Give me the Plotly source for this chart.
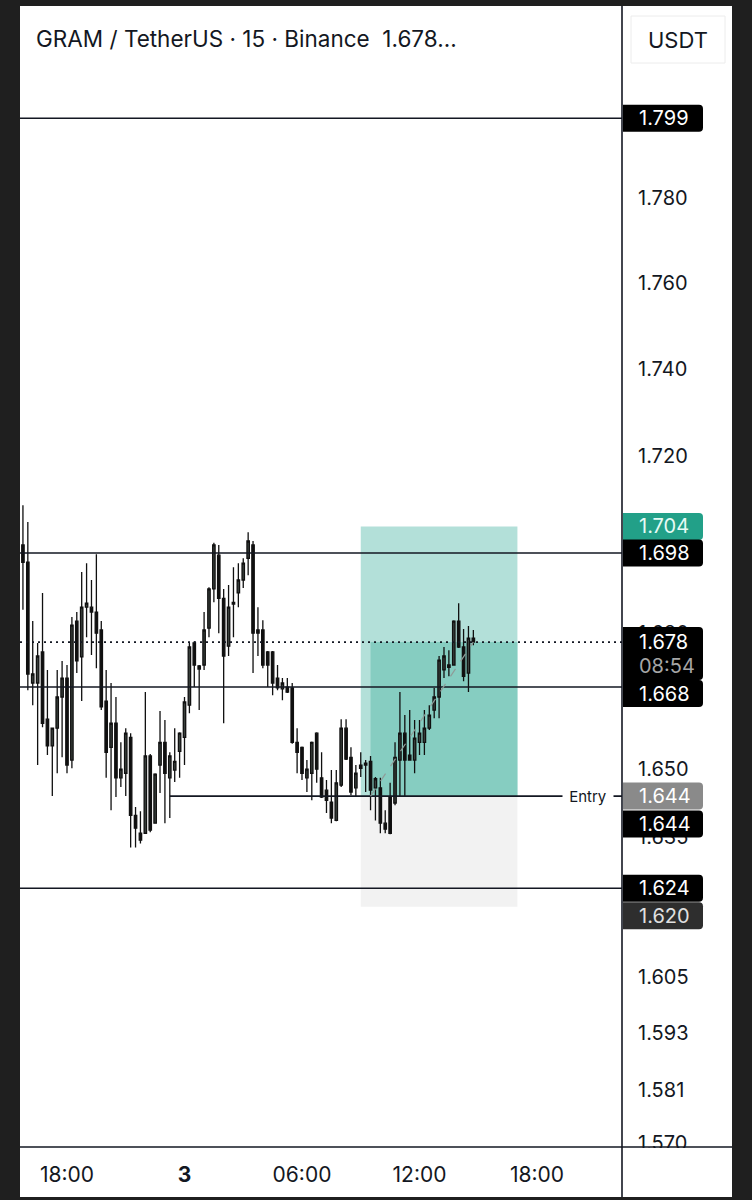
import math
import pandas as pd
import plotly.graph_objects as go

# ---------------- data ----------------
start_time = "2025-01-02 15:45"
bar_freq = "15min"

opens = [1.6998, 1.6959, 1.6689, 1.6689, 1.6758, 1.6609, 1.6550, 1.6589, 1.6658, 1.6700,
         1.6519, 1.6827, 1.6747, 1.6858, 1.6858, 1.6847, 1.6807, 1.6649, 1.6547, 1.6600,
         1.6480, 1.6490, 1.6569, 1.6398, 1.6359, 1.6359, 1.6528, 1.6381, 1.6508, 1.6558,
         1.6480, 1.6497, 1.6538, 1.6569, 1.6640, 1.6778, 1.6727, 1.6729, 1.6811, 1.6899,
         1.6975, 1.6878, 1.6771, 1.6865, 1.6890, 1.6919, 1.6968, 1.6998, 1.6807, 1.6807,
         1.6758, 1.6758, 1.6700, 1.6676, 1.6680, 1.6678, 1.6558, 1.6547, 1.6480, 1.6490,
         1.6578, 1.6480, 1.6453, 1.6427, 1.6387, 1.6464, 1.6589, 1.6525, 1.6458, 1.6508,
         1.6512, 1.6516, 1.6458, 1.6458, 1.6381, 1.6438, 1.6425, 1.6519, 1.6578, 1.6530,
         1.6519, 1.6558, 1.6558, 1.6589, 1.6629, 1.6658, 1.6718, 1.6729, 1.6729, 1.6827,
         1.6769, 1.6711, 1.6789]
highs = [1.7088, 1.7050, 1.6827, 1.6778, 1.6890, 1.6718, 1.6589, 1.6718, 1.6738, 1.6729,
         1.6836, 1.6847, 1.6937, 1.6957, 1.6919, 1.6977, 1.6827, 1.6718, 1.6689, 1.6658,
         1.6558, 1.6589, 1.6578, 1.6416, 1.6407, 1.6669, 1.6532, 1.6490, 1.6627, 1.6607,
         1.6536, 1.6589, 1.6580, 1.6658, 1.6778, 1.6782, 1.6729, 1.6847, 1.6903, 1.7003,
         1.6998, 1.6899, 1.6908, 1.6948, 1.6957, 1.6968, 1.7027, 1.7007, 1.6858, 1.6829,
         1.6760, 1.6760, 1.6729, 1.6700, 1.6700, 1.6689, 1.6589, 1.6549, 1.6519, 1.6560,
         1.6580, 1.6536, 1.6475, 1.6497, 1.6497, 1.6609, 1.6609, 1.6547, 1.6508, 1.6536,
         1.6519, 1.6528, 1.6482, 1.6480, 1.6409, 1.6469, 1.6558, 1.6669, 1.6618, 1.6629,
         1.6607, 1.6607, 1.6629, 1.6640, 1.6678, 1.6749, 1.6769, 1.6762, 1.6829, 1.6867,
         1.6809, 1.6816, 1.6807]
lows = [1.6852, 1.6673, 1.6640, 1.6508, 1.6591, 1.6530, 1.6440, 1.6490, 1.6525, 1.6490,
        1.6501, 1.6711, 1.6649, 1.6791, 1.6751, 1.6722, 1.6629, 1.6480, 1.6409, 1.6438,
        1.6460, 1.6440, 1.6328, 1.6328, 1.6337, 1.6359, 1.6361, 1.6381, 1.6447, 1.6381,
        1.6392, 1.6471, 1.6480, 1.6508, 1.6622, 1.6680, 1.6629, 1.6718, 1.6791, 1.6869,
        1.6800, 1.6600, 1.6749, 1.6791, 1.6858, 1.6901, 1.6930, 1.6711, 1.6749, 1.6722,
        1.6680, 1.6662, 1.6673, 1.6651, 1.6667, 1.6555, 1.6490, 1.6475, 1.6449, 1.6431,
        1.6469, 1.6436, 1.6403, 1.6381, 1.6385, 1.6460, 1.6519, 1.6442, 1.6438, 1.6482,
        1.6449, 1.6409, 1.6387, 1.6359, 1.6359, 1.6357, 1.6420, 1.6438, 1.6438, 1.6519,
        1.6490, 1.6530, 1.6530, 1.6585, 1.6611, 1.6611, 1.6700, 1.6704, 1.6729, 1.6767,
        1.6693, 1.6669, 1.6773]
closes = [1.6959, 1.6709, 1.6709, 1.6749, 1.6600, 1.6550, 1.6589, 1.6658, 1.6700, 1.6508,
          1.6818, 1.6738, 1.6858, 1.6867, 1.6847, 1.6800, 1.6636, 1.6536, 1.6600, 1.6480,
          1.6499, 1.6578, 1.6398, 1.6370, 1.6344, 1.6528, 1.6366, 1.6488, 1.6558, 1.6490,
          1.6528, 1.6516, 1.6578, 1.6647, 1.6769, 1.6729, 1.6720, 1.6807, 1.6899, 1.6998,
          1.6878, 1.6749, 1.6858, 1.6869, 1.6919, 1.6957, 1.7007, 1.6800, 1.6800, 1.6729,
          1.6729, 1.6689, 1.6678, 1.6689, 1.6669, 1.6558, 1.6536, 1.6490, 1.6499, 1.6558,
          1.6499, 1.6438, 1.6431, 1.6392, 1.6469, 1.6589, 1.6521, 1.6449, 1.6490, 1.6501,
          1.6508, 1.6453, 1.6478, 1.6381, 1.6368, 1.6359, 1.6525, 1.6578, 1.6519, 1.6519,
          1.6567, 1.6578, 1.6589, 1.6618, 1.6658, 1.6740, 1.6749, 1.6724, 1.6827, 1.6769,
          1.6704, 1.6789, 1.6780]

level_lines = [1.799, 1.698, 1.668, 1.624]
last_price = 1.678
countdown = "08:54"
entry_price = 1.644
target_price = 1.704
stop_price = 1.620
entry_line_start = "2025-01-02 23:15"
position_start = "2025-01-03 09:00"
position_fill_start = "2025-01-03 09:30"
position_end = "2025-01-03 17:00"
last_bar_time = "2025-01-03 14:45"

# ticks that are visible (1.680 and 1.635 peek out from behind the price tags)
y_ticks = [1.570, 1.581, 1.593, 1.605, 1.635, 1.650, 1.680,
           1.720, 1.740, 1.760, 1.780]
x_tick_vals = ["2025-01-02 18:00", "2025-01-03 00:00", "2025-01-03 06:00",
               "2025-01-03 12:00", "2025-01-03 18:00"]
x_tick_text = ["18:00", "<b>3</b>", "06:00", "12:00", "18:00"]
title_text = "GRAM / TetherUS · 15 · Binance  1.678..."

# price-scale labels: (text, price, colour, text colour, shift px)
scale_labels = [
    ("1.799", 1.799, "#000000", "#ffffff", 0),
    ("1.704", 1.704, "#22a088", "#e6fbf5", 0),
    ("1.698", 1.698, "#000000", "#ffffff", 0),
    ("1.668", 1.668, "#000000", "#ffffff", 6.5),
    ("1.644", 1.644, "#8a8a8a", "#ffffff", 0),
    ("1.644", 1.644, "#000000", "#ffffff", 28),
    ("1.624", 1.624, "#000000", "#ffffff", 0),
    ("1.620", 1.620, "#2e2e2e", "#e0e0e0", 9),
]

times = pd.date_range(start_time, periods=len(opens), freq=bar_freq)

# ---------------- geometry ----------------
W, H = 752, 1200
ML, MR, MT, MB = 20, 130, 6, 53
PW, PH = W - ML - MR, H - MT - MB
y_lo, y_hi = 1.56909, 1.82603
x_lo, x_hi = "2025-01-02 15:36", "2025-01-03 22:20:24"
FONT = "Inter, Roboto, sans-serif"
INK = "#131722"
TICK_SIZE = 20


def X(px):
    return (px - ML) / PW


def Y(py):
    return 1 - (py - MT) / PH


def price_px(p):
    a, b = math.log10(y_lo), math.log10(y_hi)
    return MT + (b - math.log10(p)) / (b - a) * PH


def rounded_box(y0, y1, fill, x0=623, x1=703, r=4):
    path = (f"M {X(x0)},{Y(y0)} L {X(x1 - r)},{Y(y0)} Q {X(x1)},{Y(y0)} {X(x1)},{Y(y0 + r)} "
            f"L {X(x1)},{Y(y1 - r)} Q {X(x1)},{Y(y1)} {X(x1 - r)},{Y(y1)} L {X(x0)},{Y(y1)} Z")
    return dict(type="path", xref="paper", yref="paper", path=path,
                fillcolor=fill, line=dict(width=0), layer="above")


fig = go.Figure()
fig.add_trace(go.Candlestick(
    x=times, open=opens, high=highs, low=lows, close=closes,
    increasing=dict(fillcolor="#3a413d", line=dict(color="#101010", width=1.3)),
    decreasing=dict(fillcolor="#101010", line=dict(color="#101010", width=1.3)),
    whiskerwidth=0, hoverinfo="skip", showlegend=False))

shapes = []
# white page inside the dark frame
shapes.append(dict(type="rect", xref="paper", yref="paper", x0=X(20), x1=X(732),
                   y0=Y(6), y1=Y(1197), fillcolor="white", line=dict(width=0), layer="below"))
# long position tool
shapes.append(dict(type="rect", xref="x", yref="y", x0=position_start, x1=position_end,
                   y0=entry_price, y1=target_price, fillcolor="#b3e0d9",
                   line=dict(width=0), layer="below"))
shapes.append(dict(type="rect", xref="x", yref="y", x0=position_fill_start, x1=position_end,
                   y0=entry_price, y1=last_price, fillcolor="#86cdc1",
                   line=dict(width=0), layer="below"))
shapes.append(dict(type="rect", xref="x", yref="y", x0=position_start, x1=position_end,
                   y0=stop_price, y1=entry_price, fillcolor="#f2f2f2",
                   line=dict(width=0), layer="below"))
# horizontal levels
for lv in level_lines:
    shapes.append(dict(type="line", xref="x", yref="y", x0=x_lo, x1=x_hi, y0=lv, y1=lv,
                       line=dict(color=INK, width=1.6), layer="above"))
shapes.append(dict(type="line", xref="x", yref="y", x0=entry_line_start, x1=x_hi,
                   y0=entry_price, y1=entry_price, line=dict(color=INK, width=1.6), layer="above"))
shapes.append(dict(type="line", xref="x", yref="y", x0=x_lo, x1=x_hi,
                   y0=last_price, y1=last_price, line=dict(color=INK, width=1.6, dash="2px,4px"),
                   layer="above"))
shapes.append(dict(type="line", xref="x", yref="y", x0=position_fill_start, x1=last_bar_time,
                   y0=entry_price, y1=last_price, line=dict(color="#8f9c99", width=1.2, dash="dash"),
                   layer="above"))
# clip the lowest tick label and draw the axis borders
shapes.append(dict(type="rect", xref="paper", yref="paper", x0=X(623), x1=X(731),
                   y0=Y(1148), y1=Y(1196), fillcolor="white", line=dict(width=0), layer="above"))
shapes.append(dict(type="line", xref="paper", yref="paper", x0=X(622), x1=X(622),
                   y0=Y(6), y1=Y(1197), line=dict(color=INK, width=1.6), layer="above"))
shapes.append(dict(type="line", xref="paper", yref="paper", x0=X(20), x1=X(732),
                   y0=Y(1147), y1=Y(1147), line=dict(color=INK, width=1.6), layer="above"))
# USDT button
shapes.append(dict(type="rect", xref="paper", yref="paper", x0=X(631), x1=X(725),
                   y0=Y(16), y1=Y(63), fillcolor="white", line=dict(color="#ececec", width=1),
                   layer="above"))

annotations = []
for text, price, bg, fg, shift in scale_labels:
    yc = price_px(price) + shift
    shapes.append(rounded_box(yc - 13.5, yc + 13.5, bg))
    annotations.append(dict(xref="paper", yref="paper", x=X(637), y=Y(yc), text=text,
                            xanchor="left", yanchor="middle", showarrow=False,
                            font=dict(family=FONT, size=TICK_SIZE, color=fg)))
# last price + countdown
yc = price_px(last_price)
shapes.append(rounded_box(yc - 15, yc + 38, "#000000"))
annotations.append(dict(xref="paper", yref="paper", x=X(637), y=Y(yc), text=f"{last_price:.3f}",
                        xanchor="left", yanchor="middle", showarrow=False,
                        font=dict(family=FONT, size=TICK_SIZE, color="#ffffff")))
annotations.append(dict(xref="paper", yref="paper", x=X(637), y=Y(yc + 24), text=countdown,
                        xanchor="left", yanchor="middle", showarrow=False,
                        font=dict(family=FONT, size=TICK_SIZE, color="#a6a6a6")))
# Entry tag on the entry line
annotations.append(dict(xref="paper", yref="y", x=X(588), y=math.log10(entry_price), text="Entry",
                        xanchor="center", yanchor="middle", showarrow=False, bgcolor="white",
                        borderpad=2, width=46,
                        font=dict(family=FONT, size=15, color=INK)))
# title and currency button
annotations.append(dict(xref="paper", yref="paper", x=X(34), y=Y(38), text=title_text,
                        xanchor="left", yanchor="middle", showarrow=False,
                        font=dict(family=FONT, size=22.5, color=INK)))
annotations.append(dict(xref="paper", yref="paper", x=X(678), y=Y(40), text="USDT",
                        xanchor="center", yanchor="middle", showarrow=False,
                        font=dict(family=FONT, size=22, color=INK)))

fig.update_layout(
    width=W, height=H,
    margin=dict(l=ML, r=MR, t=MT, b=MB, pad=0),
    paper_bgcolor="#1f1f1f", plot_bgcolor="white",
    showlegend=False, hovermode=False,
    shapes=shapes, annotations=annotations,
    xaxis=dict(type="date", range=[x_lo, x_hi], rangeslider=dict(visible=False),
               tickvals=x_tick_vals, ticktext=x_tick_text, ticks="", showgrid=False,
               zeroline=False, showline=False, ticklabelstandoff=13,
               tickfont=dict(family=FONT, size=21, color=INK), fixedrange=True),
    yaxis=dict(type="log", range=[math.log10(y_lo), math.log10(y_hi)], side="right",
               tickvals=y_ticks, ticktext=[f"{v:.3f}" for v in y_ticks], ticks="",
               showgrid=False, zeroline=False, showline=False, ticklabelstandoff=15,
               tickfont=dict(family=FONT, size=TICK_SIZE, color=INK), fixedrange=True),
)

fig.write_html("out.html")
